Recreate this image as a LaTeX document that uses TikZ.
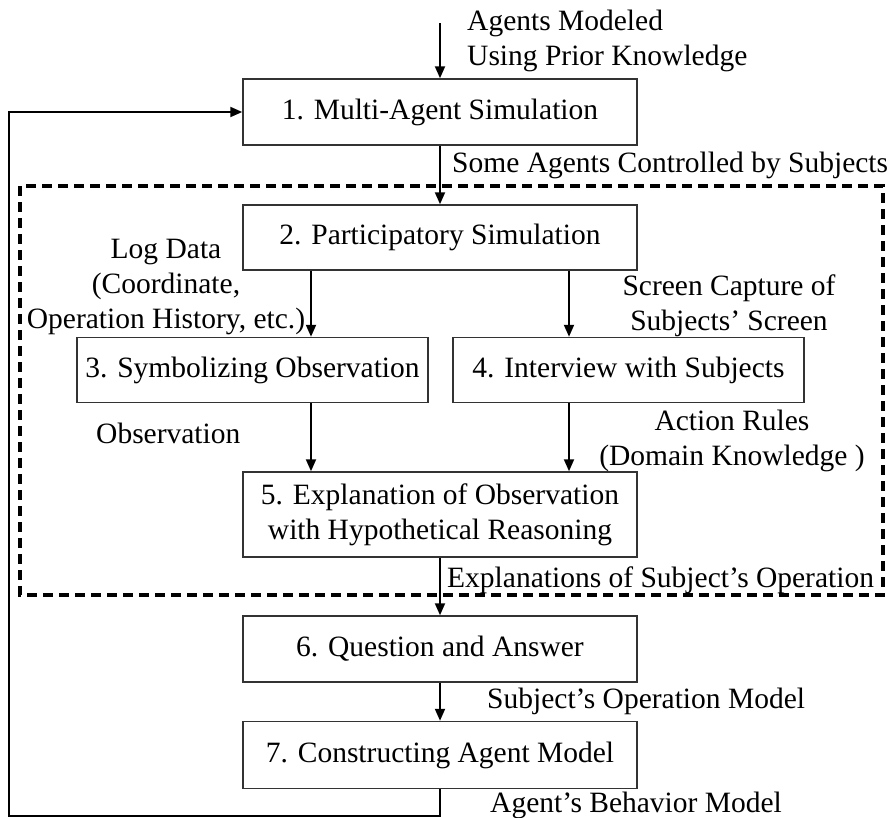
\documentclass[tikz,border=0pt]{standalone}
\usepackage{fontspec}
\setmainfont{Liberation Serif}
\usetikzlibrary{arrows.meta}
\begin{document}
\begin{tikzpicture}[x=1pt,y=-1pt,
  every node/.style={font=\fontsize{29.5}{35}\selectfont, inner sep=0pt},
  stage/.style={draw=black!80, line width=1.5pt, fill=white, minimum width=394pt, align=center},
  flow/.style={line width=2pt, -{Triangle[length=12pt,width=10pt]}},
  region/.style={line width=3.5pt, dash pattern=on 10pt off 6pt}
]
\useasboundingbox (0,0) rectangle (894,817);

% grouping of the participatory steps
\draw[region] (20,186) rectangle (883,595);

% process stages
\node[stage, minimum height=66pt] (s1) at (440,112) {1. Multi-Agent Simulation};
\node[stage, minimum height=65pt] (s2) at (440,237.5) {2. Participatory Simulation};
\node[stage, minimum width=351pt, minimum height=65pt] (s3) at (252.5,370) {3. Symbolizing Observation};
\node[stage, minimum width=351pt, minimum height=65pt] (s4) at (628.5,370) {4. Interview with Subjects};
\node[stage, minimum height=85pt] (s5) at (440,514.5) {5. Explanation of Observation\\with Hypothetical Reasoning};
\node[stage, minimum height=66pt] (s6) at (440,649) {6. Question and Answer};
\node[stage, minimum height=67pt] (s7) at (440,755) {7. Constructing Agent Model};

% helper coordinates for connectors
\coordinate (src) at (440,23);
\coordinate (colL) at (311,0);
\coordinate (colR) at (569,0);
\coordinate (loopBL) at (8.5,816);

% connectors
\draw[flow] (src) -- (s1.north);
\draw[flow] (s1.south) -- (s2.north);
\draw[flow] (s2.south -| colL) -- (s3.north -| colL);
\draw[flow] (s2.south -| colR) -- (s4.north -| colR);
\draw[flow] (s3.south -| colL) -- (s5.north -| colL);
\draw[flow] (s4.south -| colR) -- (s5.north -| colR);
\draw[flow] (s5.south) -- (s6.north);
\draw[flow] (s6.south) -- (s7.north);
\draw[flow] (s7.south) |- (loopBL) |- (s1.west);

% connector labels
\node[anchor=base west] (l1a) at (467,30) {Agents Modeled};
\node[anchor=base west] (l1b) at (467,65) {Using Prior Knowledge};
\node[anchor=base west] (l2) at (452,172) {Some Agents Controlled by Subjects};
\node[anchor=base] (l3a) at (166,258) {Log Data};
\node[anchor=base] (l3b) at (166,293) {(Coordinate,};
\node[anchor=base] (l3c) at (166,328) {Operation History, etc.)};
\node[anchor=base] (l4a) at (729,295) {Screen Capture of};
\node[anchor=base] (l4b) at (729,330) {Subjects’ Screen};
\node[anchor=base west] (l5) at (96,443) {Observation};
\node[anchor=base] (l6a) at (732,430) {Action Rules};
\node[anchor=base] (l6b) at (732,465) {(Domain Knowledge )};
\node[anchor=base west] (l7) at (447,587) {Explanations of Subject’s Operation};
\node[anchor=base west] (l8) at (487,708) {Subject’s Operation Model};
\node[anchor=base west] (l9) at (490,812) {Agent’s Behavior Model};
\end{tikzpicture}
\end{document}
